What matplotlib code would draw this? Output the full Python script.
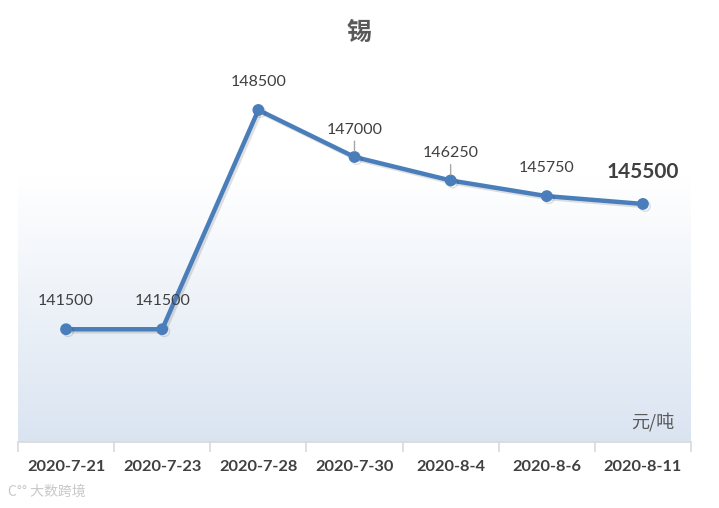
import numpy as np
import matplotlib.pyplot as plt
import matplotlib.patheffects as pe
from matplotlib.colors import LinearSegmentedColormap

plt.rcParams['font.family'] = ['Lato', 'Noto Sans CJK SC', 'DejaVu Sans']

dates = ['2020-7-21', '2020-7-23', '2020-7-28', '2020-7-30', '2020-8-4', '2020-8-6', '2020-8-11']
prices = [141500, 141500, 148500, 147000, 146250, 145750, 145500]
leader = [False, False, False, True, True, False, False]

line_color = '#4a7ebb'
text_color = '#404040'

fig = plt.figure(figsize=(7.19, 5.08), dpi=100)
ax = fig.add_axes([18 / 719, 66 / 508, 673 / 719, 379 / 508])

x = np.arange(len(dates))
ax.set_xlim(-0.5, len(dates) - 0.5)
ax.set_ylim(137900, 150000)

# gradient fill of the plot area: white on top, light blue at the bottom
grad = np.linspace(0, 1, 256).reshape(-1, 1)
cmap = LinearSegmentedColormap.from_list('bg', [(0, '#dae4f1'), (0.7, '#ffffff'), (1, '#ffffff')])
ax.imshow(grad, cmap=cmap, aspect='auto', origin='lower',
          extent=[-0.5, len(dates) - 0.5, 137900, 150000], zorder=0)

ax.plot(x, prices, color=line_color, lw=3.2, marker='o', ms=7.5,
        solid_capstyle='round', zorder=3,
        path_effects=[pe.SimpleLineShadow(offset=(1.5, -1.5), alpha=0.12), pe.Normal()])

for i, (xi, v) in enumerate(zip(x, prices)):
    if i == len(prices) - 1:
        ax.annotate(f'{v}', (xi, v), xytext=(0, 32), textcoords='offset pixels',
                    ha='center', va='center', fontsize=15, fontweight='bold', color=text_color)
    elif leader[i]:
        ax.annotate(f'{v}', (xi, v), xytext=(0, 27), textcoords='offset pixels',
                    ha='center', va='center', fontsize=11.5, color=text_color,
                    arrowprops=dict(arrowstyle='-', color='#a6a6a6', lw=1,
                                    shrinkA=1, shrinkB=4))
    else:
        ax.annotate(f'{v}', (xi, v), xytext=(0, 28), textcoords='offset pixels',
                    ha='center', va='center', fontsize=11.5, color=text_color)

for s in ['top', 'right', 'left']:
    ax.spines[s].set_visible(False)
ax.spines['bottom'].set_color('#d9d9d9')
ax.spines['bottom'].set_linewidth(1.2)
ax.set_yticks([])
ax.set_xticks(x)
ax.set_xticklabels(dates, fontsize=11.8, fontweight='bold', color=text_color)
ax.tick_params(axis='x', length=0, pad=13)
ax.set_xticks(np.arange(-0.5, len(dates)), minor=True)
ax.tick_params(axis='x', which='minor', length=7, color='#d9d9d9', width=1.2)

fig.text(359 / 719, 1 - 33 / 508, '锡', ha='center', va='center',
         fontsize=18, fontweight='bold', color='#595959', family=['Noto Sans CJK SC'])
fig.text(653 / 719, 1 - 422 / 508, '元/吨', ha='center', va='center',
         fontsize=13, color='#595959', family=['Noto Sans CJK SC'])
fig.text(8 / 719, 1 - 492 / 508, 'C°° 大数跨境', ha='left', va='center',
         fontsize=10, color='#c8c8c8', family=['Noto Sans CJK SC', 'DejaVu Sans'])

fig.savefig('out.png', dpi=100)
